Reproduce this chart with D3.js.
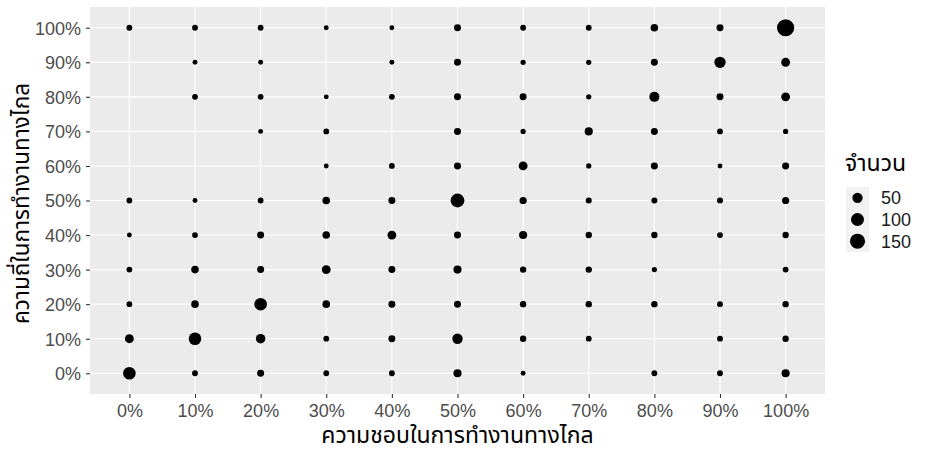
<!DOCTYPE html>
<html>
<head>
<meta charset="utf-8">
<script src="https://cdn.jsdelivr.net/npm/d3@7"></script>
<style>
  html, body { margin: 0; padding: 0; background: #ffffff; }
  svg { display: block; }
  text { font-family: "Liberation Sans", Arial, "Noto Sans Thai", "Noto Sans", sans-serif; }
</style>
</head>
<body>
<svg id="chart" width="930" height="454"></svg>
<script>
// ---- data ----
const xLabels = ["0%","10%","20%","30%","40%","50%","60%","70%","80%","90%","100%"];
const yLabels = ["0%","10%","20%","30%","40%","50%","60%","70%","80%","90%","100%"];
// counts[row] : row = y category (0% .. 100%), columns = x categories (0% .. 100%); 0 = no point
const counts = [
  [90, 4, 11, 4, 4, 21, 1, 0, 4, 4, 21],      // y 0%
  [29, 90, 37, 4, 11, 50, 7, 4, 0, 4, 7],     // y 10%
  [4, 16, 90, 16, 11, 11, 7, 7, 7, 4, 7],     // y 20%
  [4, 16, 11, 29, 11, 21, 7, 7, 2, 0, 4],     // y 30%
  [1, 4, 11, 16, 29, 11, 21, 7, 7, 4, 7],     // y 40%
  [4, 1, 4, 16, 11, 118, 13, 5, 5, 5, 13],    // y 50%
  [0, 0, 0, 1, 4, 11, 29, 2, 11, 1, 11],      // y 60%
  [0, 0, 1, 4, 0, 11, 2, 21, 11, 4, 2],       // y 70%
  [0, 4, 4, 1, 4, 11, 11, 2, 45, 11, 29],     // y 80%
  [0, 1, 1, 0, 1, 11, 2, 2, 11, 66, 29],      // y 90%
  [4, 4, 4, 1, 1, 11, 4, 4, 16, 11, 215]      // y 100%
];
const legendValues = [50, 100, 150];
const xTitle = "ความชอบในการทำงานทางไกล";
const yTitle = "ความถี่ในการทำงานทางไกล";
const legendTitle = "จำนวน";

// ---- layout ----
const panel = { left: 90, right: 825, top: 7, bottom: 394 };
const svg = d3.select("#chart");

const points = [];
counts.forEach((row, i) => row.forEach((v, j) => {
  if (v > 0) points.push({ x: xLabels[j], y: yLabels[i], n: v });
}));

const x = d3.scalePoint().domain(xLabels).range([panel.left, panel.right]).padding(0.6);
const y = d3.scalePoint().domain(yLabels).range([panel.bottom, panel.top]).padding(0.6);
const r = d3.scaleSqrt().domain([0, d3.max(points, d => d.n)]).range([2.0, 8.6]);

svg.append("rect").attr("width", 930).attr("height", 454).attr("fill", "#ffffff");

// panel
svg.append("rect")
  .attr("x", panel.left).attr("y", panel.top)
  .attr("width", panel.right - panel.left).attr("height", panel.bottom - panel.top)
  .attr("fill", "#EBEBEB");

// grid
svg.append("g").selectAll("line").data(xLabels).join("line")
  .attr("x1", d => x(d)).attr("x2", d => x(d))
  .attr("y1", panel.top).attr("y2", panel.bottom)
  .attr("stroke", "#ffffff").attr("stroke-width", 1.1);
svg.append("g").selectAll("line").data(yLabels).join("line")
  .attr("y1", d => y(d)).attr("y2", d => y(d))
  .attr("x1", panel.left).attr("x2", panel.right)
  .attr("stroke", "#ffffff").attr("stroke-width", 1.1);

// points
svg.append("g").selectAll("circle").data(points).join("circle")
  .attr("cx", d => x(d.x)).attr("cy", d => y(d.y)).attr("r", d => r(d.n))
  .attr("fill", "#000000");

// axes
const xAxis = svg.append("g").attr("transform", `translate(0,${panel.bottom})`)
  .call(d3.axisBottom(x).tickSize(4).tickPadding(6));
const yAxis = svg.append("g").attr("transform", `translate(${panel.left},0)`)
  .call(d3.axisLeft(y).tickSize(4).tickPadding(5));
[xAxis, yAxis].forEach(g => {
  g.select(".domain").remove();
  g.selectAll(".tick line").attr("stroke", "#333333").attr("stroke-width", 1.1);
  g.selectAll(".tick text").attr("fill", "#4D4D4D").style("font-size", "18px");
});
yAxis.selectAll(".tick text").attr("dy", "0.36em");

// axis titles
svg.append("text")
  .attr("x", (panel.left + panel.right) / 2).attr("y", 443)
  .attr("text-anchor", "middle").attr("fill", "#000").style("font-size", "23px")
  .text(xTitle);
svg.append("text")
  .attr("transform", `translate(29,${(panel.top + panel.bottom) / 2 + 3}) rotate(-90)`)
  .attr("text-anchor", "middle").attr("fill", "#000").style("font-size", "22.5px")
  .text(yTitle);

// legend
const lg = svg.append("g");
lg.append("text").attr("x", 845).attr("y", 171)
  .attr("fill", "#000").style("font-size", "23px").text(legendTitle);
const keyY = d3.scaleBand().domain(legendValues).range([187, 252]);
lg.append("rect").attr("x", 846).attr("y", keyY.range()[0])
  .attr("width", 23).attr("height", keyY.range()[1] - keyY.range()[0]).attr("fill", "#F2F2F2");
const items = lg.selectAll("g.item").data(legendValues).join("g").attr("class", "item")
  .attr("transform", d => `translate(0,${keyY(d) + keyY.bandwidth() / 2})`);
items.append("circle").attr("cx", 857.5).attr("cy", 0).attr("r", d => r(d)).attr("fill", "#000");
items.append("text").attr("x", 881).attr("y", 0).attr("dy", "0.36em")
  .attr("fill", "#1a1a1a").style("font-size", "18px").text(d => d);
</script>
</body>
</html>
